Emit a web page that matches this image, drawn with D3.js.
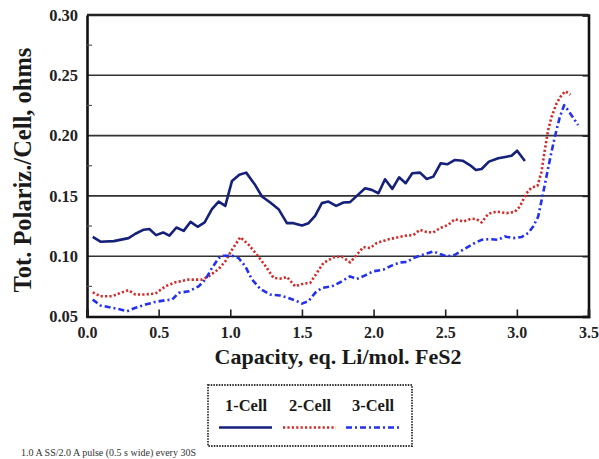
<!DOCTYPE html>
<html>
<head>
<meta charset="utf-8">
<script src="https://cdn.jsdelivr.net/npm/d3@7"></script>
<style>
  html, body { margin: 0; padding: 0; background: #fff; }
  svg { display: block; }
  text { font-family: "Liberation Serif", "Times New Roman", serif; }
</style>
</head>
<body>
<svg id="chart" width="599" height="459"></svg>
<script>
// ---- data ----
const seriesNames = ["1-Cell", "2-Cell", "3-Cell"];
const xTicks = [0.0, 0.5, 1.0, 1.5, 2.0, 2.5, 3.0, 3.5];
const yTicks = [0.05, 0.10, 0.15, 0.20, 0.25, 0.30];
const yMinorTicks = [0.075, 0.125, 0.175, 0.225, 0.275];

const cell1Cap = [0.04,0.094,0.187,0.29,0.338,0.396,0.435,0.482,0.531,0.575,0.624,0.675,0.723,0.772,0.821,0.872,0.919,0.965,1.012,1.063,1.111,1.174,1.221,1.279,1.337,1.395,1.441,1.5,1.546,1.592,1.639,1.685,1.739,1.79,1.836,1.883,1.941,1.987,2.034,2.08,2.131,2.178,2.224,2.27,2.324,2.371,2.417,2.468,2.514,2.568,2.621,2.672,2.714,2.754,2.805,2.87,2.928,2.963,3.002,3.056];
const cell1Pol = [0.116,0.112,0.1125,0.115,0.1186,0.122,0.1225,0.1175,0.1197,0.117,0.1238,0.121,0.1285,0.1244,0.128,0.139,0.1453,0.1417,0.1624,0.1676,0.1693,0.159,0.1495,0.1445,0.139,0.1274,0.1274,0.1255,0.1274,0.1335,0.144,0.1453,0.1417,0.1445,0.1448,0.15,0.1563,0.155,0.1522,0.1638,0.1558,0.1654,0.1605,0.1688,0.1693,0.164,0.166,0.177,0.1762,0.1798,0.1792,0.1756,0.1715,0.1723,0.1784,0.1812,0.1825,0.1833,0.1875,0.1789];

const cell2Cap = [0.04,0.094,0.176,0.233,0.29,0.338,0.396,0.477,0.547,0.617,0.71,0.803,0.849,0.919,0.965,1.012,1.07,1.128,1.186,1.244,1.302,1.36,1.395,1.453,1.511,1.557,1.604,1.65,1.72,1.778,1.836,1.883,1.929,1.976,2.022,2.092,2.161,2.22,2.277,2.324,2.371,2.417,2.463,2.521,2.568,2.626,2.684,2.719,2.754,2.8,2.858,2.928,2.986,3.021,3.067,3.102,3.144,3.172,3.195,3.218,3.242,3.277,3.311,3.339,3.374];
const cell2Pol = [0.070,0.0668,0.0668,0.0696,0.0718,0.0682,0.0682,0.069,0.075,0.0784,0.0806,0.0806,0.0833,0.0894,0.0957,0.1054,0.1158,0.1095,0.1012,0.0921,0.082,0.0814,0.0828,0.075,0.0773,0.0778,0.0861,0.0944,0.099,0.0998,0.0949,0.1012,0.1076,0.1068,0.1109,0.1136,0.1155,0.1169,0.1175,0.1219,0.12,0.1197,0.1233,0.126,0.1307,0.1288,0.1312,0.1307,0.128,0.1351,0.137,0.1357,0.1368,0.1412,0.1522,0.1569,0.1583,0.17,0.188,0.2045,0.2155,0.2266,0.2335,0.2368,0.234];

const cell3Cap = [0.04,0.094,0.176,0.233,0.28,0.338,0.408,0.477,0.547,0.594,0.64,0.71,0.779,0.826,0.872,0.919,0.953,1.012,1.058,1.105,1.15,1.209,1.279,1.348,1.406,1.465,1.5,1.546,1.592,1.639,1.709,1.767,1.836,1.883,1.941,1.999,2.069,2.115,2.185,2.231,2.277,2.324,2.417,2.463,2.51,2.568,2.626,2.696,2.754,2.812,2.87,2.916,2.974,3.033,3.079,3.114,3.149,3.183,3.23,3.265,3.3,3.33,3.357,3.392,3.427];
const cell3Pol = [0.064,0.0591,0.0572,0.0558,0.0544,0.0572,0.0599,0.0621,0.0635,0.064,0.0696,0.0709,0.075,0.0806,0.0902,0.0985,0.1004,0.1004,0.0985,0.0916,0.081,0.0729,0.0682,0.0674,0.0654,0.0627,0.0607,0.0627,0.0696,0.0737,0.075,0.0784,0.0833,0.0811,0.0841,0.0875,0.0888,0.0916,0.0949,0.0952,0.0985,0.1004,0.104,0.1018,0.0998,0.1012,0.1054,0.1103,0.1136,0.1142,0.1136,0.1164,0.115,0.1159,0.1192,0.1246,0.1329,0.1522,0.1798,0.199,0.2155,0.2252,0.2211,0.215,0.2087];

const seriesCaps = [cell1Cap, cell2Cap, cell3Cap];
const seriesPols = [cell1Pol, cell2Pol, cell3Pol];

// ---- styles ----
const colors = ["#14207a", "#d42a2a", "#2430f0"];
const dashes = [null, "2.2,2.2", "6,3,2,3"];
const widths = [2.6, 2.6, 2.6];

// ---- layout ----
const svg = d3.select("#chart");
const L = 87, R = 588.5, T = 15, B = 316.5;
const x = d3.scaleLinear().domain([0, 3.5]).range([L, R]);
const y = d3.scaleLinear().domain([0.05, 0.30]).range([B, T]);

// gridlines
svg.append("g")
  .selectAll("line").data(yTicks.filter(v => v > 0.06 && v < 0.29)).join("line")
  .attr("x1", L).attr("x2", R)
  .attr("y1", d => y(d)).attr("y2", d => y(d))
  .attr("stroke", "#333").attr("stroke-width", 1.6);

// left axis
const yAxis = d3.axisLeft(y).tickValues(yTicks).tickFormat(d3.format(".2f")).tickSize(0).tickPadding(9);
const gy = svg.append("g").attr("transform", `translate(${L},0)`).call(yAxis);
gy.select(".domain").attr("stroke", "#111").attr("stroke-width", 2.6);
gy.selectAll("text").attr("font-size", 16.5).attr("font-weight", "bold").attr("fill", "#222")
  .style("font-family", '"Liberation Serif", serif');

// left minor ticks (inward)
svg.append("g").selectAll("line").data(yMinorTicks).join("line")
  .attr("x1", L).attr("x2", L + 5)
  .attr("y1", d => y(d)).attr("y2", d => y(d))
  .attr("stroke", "#555").attr("stroke-width", 1.2);

// right axis
const yAxisR = d3.axisRight(y).tickValues(yTicks).tickFormat("").tickSize(-6);
const gyr = svg.append("g").attr("transform", `translate(${R},0)`).call(yAxisR);
gyr.select(".domain").attr("stroke", "#111").attr("stroke-width", 2.6);
gyr.selectAll(".tick line").attr("stroke", "#222").attr("stroke-width", 1.6);

// top border
svg.append("line").attr("x1", L).attr("x2", R).attr("y1", T).attr("y2", T)
  .attr("stroke", "#222").attr("stroke-width", 2.4);

// bottom axis
const xAxis = d3.axisBottom(x).tickValues(xTicks).tickFormat(d3.format(".1f")).tickSize(-7).tickPadding(10);
const gx = svg.append("g").attr("transform", `translate(0,${B})`).call(xAxis);
gx.select(".domain").attr("stroke", "#111").attr("stroke-width", 2.6);
gx.selectAll(".tick line").attr("stroke", "#222").attr("stroke-width", 1.6);
gx.selectAll("text").attr("font-size", 16).attr("font-weight", "bold").attr("fill", "#222")
  .style("font-family", '"Liberation Serif", serif');

// series lines
const line = d3.line().x(d => x(d[0])).y(d => y(d[1]));
seriesNames.forEach((name, i) => {
  const pts = seriesCaps[i].map((c, j) => [c, seriesPols[i][j]]);
  svg.append("path").datum(pts)
    .attr("d", line)
    .attr("fill", "none")
    .attr("stroke", colors[i])
    .attr("stroke-width", widths[i])
    .attr("stroke-linejoin", "round")
    .attr("stroke-dasharray", dashes[i]);
});

// axis titles
svg.append("text")
  .attr("x", 338).attr("y", 364)
  .attr("text-anchor", "middle")
  .attr("font-size", 22).attr("font-weight", "bold").attr("fill", "#1a1a1a")
  .text("Capacity, eq. Li/mol. FeS2");

svg.append("text")
  .attr("transform", "translate(31,170) rotate(-90)")
  .attr("text-anchor", "middle")
  .attr("font-size", 24.5).attr("font-weight", "bold").attr("fill", "#1a1a1a")
  .text("Tot. Polariz./Cell, ohms");

// legend
const lg = svg.append("g");
lg.append("rect").attr("x", 208).attr("y", 385).attr("width", 204).attr("height", 61)
  .attr("fill", "none").attr("stroke", "#333").attr("stroke-width", 1.8).attr("stroke-dasharray", "1.5,1.2");
const legX = [246, 310, 373];
seriesNames.forEach((name, i) => {
  lg.append("text").attr("x", legX[i]).attr("y", 411).attr("text-anchor", "middle")
    .attr("font-size", 16.5).attr("font-weight", "bold").attr("fill", "#1a1a1a").text(name);
  lg.append("line").attr("x1", legX[i] - 27).attr("x2", legX[i] + 26)
    .attr("y1", 427.5).attr("y2", 427.5)
    .attr("stroke", colors[i]).attr("stroke-width", 2.6)
    .attr("stroke-dasharray", dashes[i]);
});

// footnote
svg.append("text").attr("x", 21).attr("y", 456)
  .attr("font-size", 10).attr("fill", "#333")
  .text("1.0 A SS/2.0 A pulse (0.5 s wide) every 30S");
</script>
</body>
</html>
